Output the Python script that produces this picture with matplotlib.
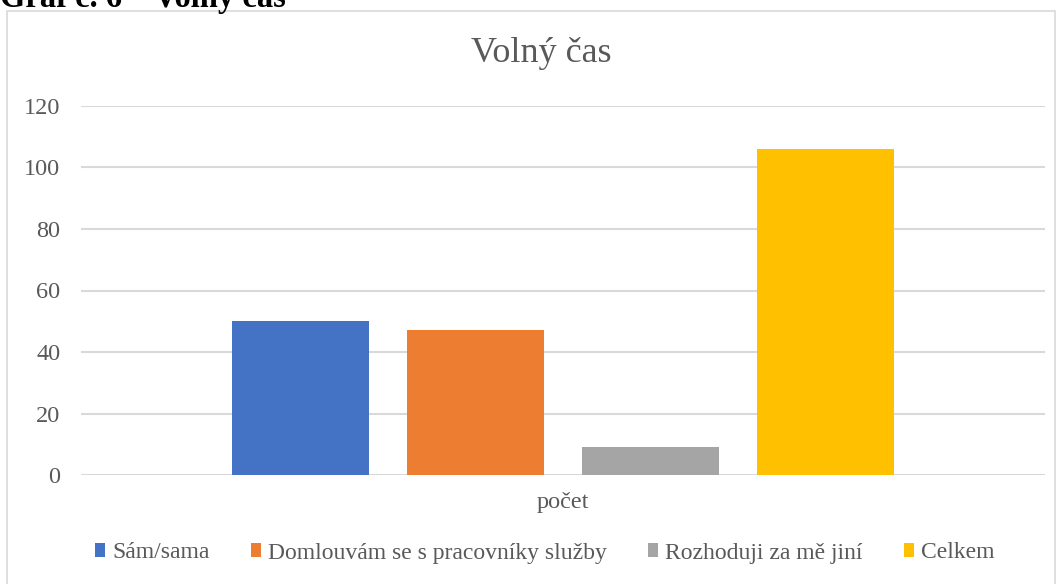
import matplotlib
matplotlib.use("Agg")
import matplotlib.pyplot as plt
from matplotlib.patches import Rectangle, Patch

plt.rcParams['font.family'] = ['Liberation Serif', 'DejaVu Serif']

categories = ["Sám/sama", "Domlouvám se s pracovníky služby", "Rozhoduji za mě jiní", "Celkem"]
values = [50, 47, 9, 106]
colors = ["#4472C4", "#ED7D31", "#A5A5A5", "#FFC000"]
xlabel = "počet"
title = "Volný čas"
yticks = [0, 20, 40, 60, 80, 100, 120]

W, H = 1061, 584
fig = plt.figure(figsize=(W / 100, H / 100), dpi=100)

# outer chart frame
fig.patches.append(Rectangle((7 / W, -0.05), (1055 - 7) / W, (H - 11) / H + 0.05,
                             transform=fig.transFigure, fill=False,
                             edgecolor="#d9d9d9", linewidth=1.2))

# caption above the chart (its top is cut off by the image edge, as in the reference)
fig.text(0 / W, 1 - 7 / H, "Graf č. 6 – Volný čas", fontsize=23.5, fontweight="bold",
         color="black", ha="left", va="baseline")

ax = fig.add_axes([81 / W, 109 / H, (1045 - 81) / W, 369 / H])
offsets = [-1.5, -0.5, 0.5, 1.5]
bw = 0.783
for off, v, c in zip(offsets, values, colors):
    ax.bar(off, v, width=bw, color=c, zorder=3)

ax.set_xlim(-2.754, 2.754)
ax.set_ylim(0, 120)
ax.set_yticks(yticks)
ax.yaxis.grid(True, color="#d9d9d9", linewidth=1.5, zorder=0)
ax.set_xticks([0])
ax.set_xticklabels([xlabel])
for s in ax.spines.values():
    s.set_visible(False)
ax.tick_params(axis="both", length=0, labelsize=17.5, colors="#595959")
ax.tick_params(axis="x", pad=12)
ax.tick_params(axis="y", pad=15)

fig.text(541 / W, 1 - 54 / H, title, fontsize=26, color="#595959", ha="center", va="center")

handles = [Patch(facecolor=c, edgecolor="none") for c in colors]
fig.legend(handles, categories, loc="center", bbox_to_anchor=(545 / W, 1 - 553 / H),
           ncol=4, frameon=False, fontsize=17, handlelength=0.42, handleheight=0.5,
           handletextpad=0.3, columnspacing=1.75, labelcolor="#595959")

fig.savefig("out.png", dpi=100)
